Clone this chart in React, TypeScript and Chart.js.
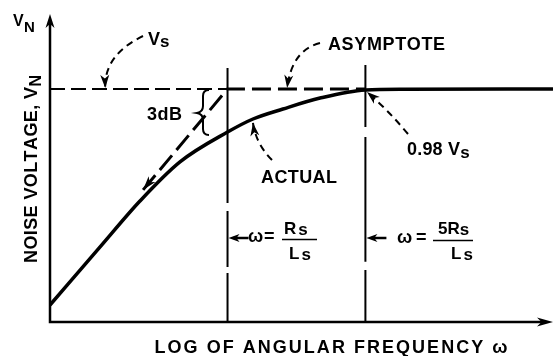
import React, { useEffect, useRef } from "react";
import { Chart, registerables } from "chart.js";
Chart.register(...registerables);

// x: log10(ω·Ls/Rs), y: noise voltage relative to Vs
const LOGW_MIN = -0.9;
const LOGW_MAX = 1.65;
const VN_MIN = 0;
const VN_MAX = 1.313;

const ACTUAL_LOGW = [-0.9, -0.646, -0.444, -0.241, 0, 0.129, 0.281, 0.469, 0.699, 0.9, 1.65];
const ACTUAL_VN = [0.073, 0.322, 0.519, 0.687, 0.815, 0.871, 0.914, 0.961, 0.996, 0.999, 1.0];

const ASYM_LOGW = [-0.428, 0, 0.699];
const ASYM_VN = [0.567, 1, 1];

const VS_LOGW = [-0.9, 0];
const VS_VN = [1, 1];

const BREAK_LOGW = [0, 0.699]; // ω = Rs/Ls and ω = 5Rs/Ls
const BREAK1_VN = [1.09, 0.511, null, 0.476, 0.236, null, 0.21, 0];
const BREAK2_VN = [1.103, 0.837, null, 0.794, 0.258, null, 0.223, 0];

const FONT = (s: number) => `bold ${s}px "Liberation Sans", Arial, sans-serif`;

function spaced(ctx: CanvasRenderingContext2D, text: string, x: number, y: number, size: number, width?: number, align: "left" | "center" = "left") {
  ctx.font = FONT(size);
  const chars = Array.from(text);
  const ws = chars.map((c) => ctx.measureText(c).width);
  const total = ws.reduce((a, b) => a + b, 0);
  const sp = width && chars.length > 1 ? (width - total) / (chars.length - 1) : 0;
  const w = width ?? total;
  let cx = align === "center" ? x - w / 2 : x;
  ctx.textAlign = "left";
  ctx.textBaseline = "alphabetic";
  chars.forEach((c, i) => {
    ctx.fillText(c, cx, y);
    cx += ws[i] + sp;
  });
  return cx;
}

function head(ctx: CanvasRenderingContext2D, tx: number, ty: number, fx: number, fy: number, len = 12, hw = 4) {
  const a = Math.atan2(ty - fy, tx - fx);
  const dx = Math.cos(a), dy = Math.sin(a);
  const px = -dy, py = dx;
  const bx = tx - dx * len, by = ty - dy * len;
  const nx = tx - dx * len * 0.72, ny = ty - dy * len * 0.72;
  ctx.beginPath();
  ctx.moveTo(tx, ty);
  ctx.lineTo(bx + px * hw, by + py * hw);
  ctx.lineTo(nx, ny);
  ctx.lineTo(bx - px * hw, by - py * hw);
  ctx.closePath();
  ctx.fill();
}

function pointer(ctx: CanvasRenderingContext2D, sx: number, sy: number, cx: number, cy: number, tx: number, ty: number) {
  ctx.save();
  ctx.lineWidth = 2;
  ctx.setLineDash([7, 5]);
  ctx.beginPath();
  ctx.moveTo(sx, sy);
  ctx.quadraticCurveTo(cx, cy, tx, ty);
  ctx.stroke();
  ctx.restore();
  head(ctx, tx, ty, cx, cy, 13, 4.5);
}

const decor = {
  id: "decor",
  afterDatasetsDraw(chart: any) {
    const ctx: CanvasRenderingContext2D = chart.ctx;
    const xs = chart.scales.x, ys = chart.scales.y;
    const X = (v: number) => xs.getPixelForValue(v);
    const Y = (v: number) => ys.getPixelForValue(v);
    const ca = chart.chartArea;
    ctx.save();
    ctx.fillStyle = "#000";
    ctx.strokeStyle = "#000";
    ctx.lineCap = "butt";

    // axes
    ctx.lineWidth = 2.5;
    ctx.beginPath();
    ctx.moveTo(ca.left, ca.top + 8);
    ctx.lineTo(ca.left, ca.bottom);
    ctx.lineTo(ca.right - 8, ca.bottom);
    ctx.stroke();
    head(ctx, ca.left, ca.top - 2, ca.left, ca.bottom, 14, 4.5);
    head(ctx, ca.right, ca.bottom, ca.left, ca.bottom, 16, 4.5);

    // asymptote arrowhead at lower-left end
    head(ctx, X(ASYM_LOGW[0]), Y(ASYM_VN[0]), X(ASYM_LOGW[1]), Y(ASYM_VN[1]), 14, 4.5);

    // small arrows at break frequencies
    const ay = 238;
    [0, 1].forEach((i) => {
      const bx = X(BREAK_LOGW[i]);
      ctx.lineWidth = 2.5;
      ctx.beginPath();
      ctx.moveTo(bx + 21, ay);
      ctx.lineTo(bx + 6, ay);
      ctx.stroke();
      head(ctx, bx + 1, ay, bx + 21, ay, 11, 4);
    });

    // pointers
    const vsTipX = X(-0.62), vsTipY = Y(1) - 1;
    pointer(ctx, 143, 36, 104, 55, vsTipX, vsTipY);
    const asTipX = X(0.302), asTipY = Y(1) - 1;
    pointer(ctx, 320, 43, 292, 50, asTipX, asTipY);
    const acTipX = X(0.129), acTipY = Y(0.854);
    pointer(ctx, 272, 160, 256, 144, acTipX, acTipY);
    const nineTipX = X(0.707), nineTipY = Y(0.987);
    pointer(ctx, 408, 134, 388, 110, nineTipX, nineTipY);

    // 3dB brace
    ctx.lineWidth = 2;
    ctx.beginPath();
    ctx.moveTo(209, 90);
    ctx.quadraticCurveTo(203, 90, 203, 96);
    ctx.lineTo(203, 106);
    ctx.quadraticCurveTo(203, 112, 197, 113);
    ctx.quadraticCurveTo(203, 114, 203, 120);
    ctx.lineTo(203, 129);
    ctx.quadraticCurveTo(203, 135, 209, 135);
    ctx.stroke();

    // texts
    spaced(ctx, "V", 13, 26, 16);
    spaced(ctx, "N", 24, 32, 15);
    let e = spaced(ctx, "V", 148, 45, 18);
    spaced(ctx, "s", e, 47, 17);
    spaced(ctx, "3dB", 147, 120, 18, 35);
    spaced(ctx, "ASYMPTOTE", 328, 50, 18, 117);
    spaced(ctx, "ACTUAL", 261, 183, 18, 76);
    e = spaced(ctx, "0.98 V", 407, 155, 18, 53);
    spaced(ctx, "s", e, 158, 17);

    // fraction 1: ω = Rs/Ls
    spaced(ctx, "ω", 248, 242, 18);
    spaced(ctx, "=", 264, 242, 18);
    ctx.lineWidth = 1.5;
    ctx.beginPath(); ctx.moveTo(282, 239.5); ctx.lineTo(317, 239.5); ctx.stroke();
    e = spaced(ctx, "R", 284, 234, 17);
    spaced(ctx, "s", e + 2, 235, 17);
    e = spaced(ctx, "L", 289, 259, 17);
    spaced(ctx, "s", e + 2, 260, 17);

    // fraction 2: ω = 5Rs/Ls
    spaced(ctx, "ω", 397, 243, 18);
    spaced(ctx, "=", 416, 243, 18);
    ctx.beginPath(); ctx.moveTo(433, 240.5); ctx.lineTo(473, 240.5); ctx.stroke();
    e = spaced(ctx, "5R", 438, 234, 17);
    spaced(ctx, "s", e, 235, 17);
    e = spaced(ctx, "L", 451, 259, 17);
    spaced(ctx, "s", e + 2, 260, 17);

    // axis titles
    spaced(ctx, "LOG OF ANGULAR FREQUENCY ω", 331, 353, 18, 353, "center");
    ctx.save();
    ctx.translate(37, 263);
    ctx.rotate(-Math.PI / 2);
    e = spaced(ctx, "NOISE VOLTAGE, V", 0, 0, 18, 176);
    spaced(ctx, "N", e, 4, 16);
    ctx.restore();

    ctx.restore();
  },
};

function pts(xs: number[], ys: (number | null)[]) {
  return xs.map((x, i) => ({ x, y: ys[i] }));
}

export default function App() {
  const ref = useRef<HTMLCanvasElement>(null);
  useEffect(() => {
    if (!ref.current) return;
    const base = { borderColor: "#000", pointRadius: 0, fill: false, spanGaps: false, borderCapStyle: "butt" };
    const chart = new Chart(ref.current, {
      type: "line",
      data: {
        datasets: [
          { ...base, label: "Actual", data: pts(ACTUAL_LOGW, ACTUAL_VN), borderWidth: 3.5, cubicInterpolationMode: "monotone" },
          { ...base, label: "Asymptote", data: pts(ASYM_LOGW, ASYM_VN), borderWidth: 3, borderDash: [19, 7] },
          { ...base, label: "Vs", data: pts(VS_LOGW, VS_VN), borderWidth: 2, borderDash: [15, 6] },
          { ...base, label: "ω=Rs/Ls", data: pts(BREAK1_VN.map(() => BREAK_LOGW[0]), BREAK1_VN), borderWidth: 2 },
          { ...base, label: "ω=5Rs/Ls", data: pts(BREAK2_VN.map(() => BREAK_LOGW[1]), BREAK2_VN), borderWidth: 2 },
        ] as any,
      },
      options: {
        animation: false,
        responsive: false,
        devicePixelRatio: 1,
        layout: { padding: { left: 50, right: 2, top: 16, bottom: 34 } },
        scales: {
          x: { type: "linear", min: LOGW_MIN, max: LOGW_MAX, display: false },
          y: { type: "linear", min: VN_MIN, max: VN_MAX, display: false },
        },
        plugins: { legend: { display: false }, tooltip: { enabled: false } },
        elements: { line: { tension: 0 } },
      } as any,
      plugins: [decor],
    });
    return () => chart.destroy();
  }, []);
  return (
    <div style={{ position: "absolute", left: 0, top: 0, width: 555, height: 356, background: "#fff" }}>
      <canvas ref={ref} width={555} height={356} />
    </div>
  );
}
